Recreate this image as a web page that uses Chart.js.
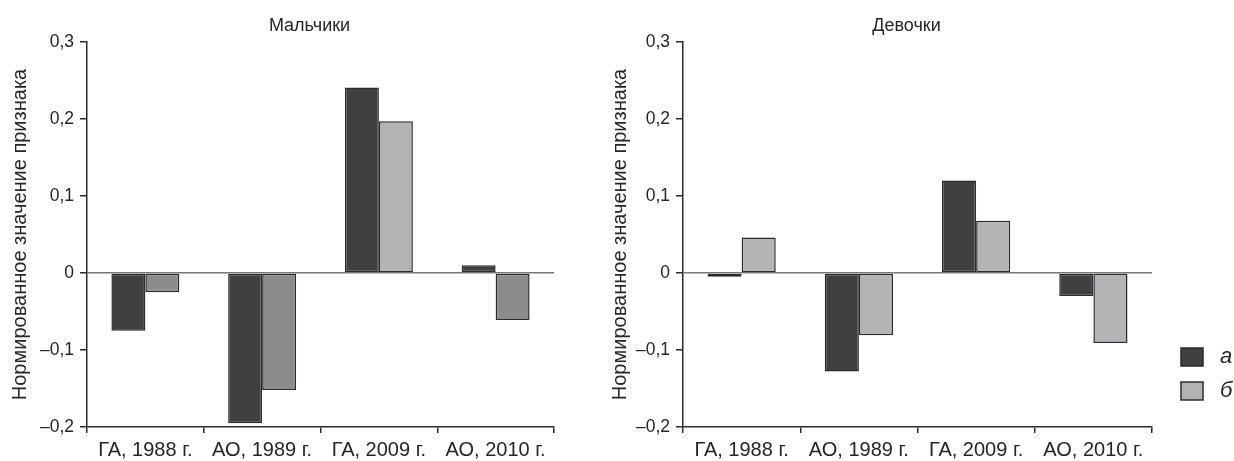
<!DOCTYPE html>
<html>
<head>
<meta charset="utf-8">
<script src="https://cdn.jsdelivr.net/npm/chart.js@4"></script>
<style>
  html, body { margin: 0; padding: 0; background: #ffffff; }
  #wrap { position: relative; width: 1234px; height: 461px; overflow: hidden; }
  canvas { position: absolute; top: 0; }
  #boys { left: 0; }
  #girls { left: 600px; }
</style>
</head>
<body>
<div id="wrap">
  <canvas id="boys" width="600" height="461"></canvas>
  <canvas id="girls" width="634" height="461"></canvas>
</div>
<script>
// Categories (group, survey year)
const categories = ['ГА, 1988 г.', 'АО, 1989 г.', 'ГА, 2009 г.', 'АО, 2010 г.'];
const seriesNames = ['а', 'б'];

// Normalised values, boys
const boysA = [-0.075, -0.195, 0.241, 0.010];
const boysB = [-0.025, -0.152, 0.197, -0.061];

// Normalised values, girls
const girlsA = [-0.005, -0.128, 0.120, -0.030];
const girlsB = [0.046, -0.081, 0.068, -0.091];

// Y axis ticks
const yTicks = [-0.2, -0.1, 0, 0.1, 0.2, 0.3];

const panelTitles = ['Мальчики', 'Девочки'];
const yAxisTitle = 'Нормированное значение признака';

// Styles
const FONT = '"Liberation Sans", Arial, Helvetica, sans-serif';
const INK = '#262626';
const EDGE = '#2b2b2b';
const DARK = '#404040';
const LIGHT = '#b4b4b6';
const MID = '#8c8c8c';
const ZERO = '#787878';

function fmtTick(v) {
  const r = Math.round(v * 10) / 10;
  if (r === 0) return '0';
  return (r < 0 ? '\u2013' : '') + Math.abs(r).toFixed(1).replace('.', ',');
}

// Panel heading drawn above the plot area
const panelTitlePlugin = {
  id: 'panelTitle',
  afterDraw(chart, args, opts) {
    const ctx = chart.ctx;
    const a = chart.chartArea;
    ctx.save();
    ctx.font = '18px ' + FONT;
    ctx.fillStyle = INK;
    ctx.textAlign = 'center';
    ctx.textBaseline = 'alphabetic';
    ctx.fillText(opts.text, (a.left + a.right) / 2 + opts.shift, 31);
    ctx.restore();
  }
};

// Series key drawn to the right of the plot area
const seriesKeyPlugin = {
  id: 'seriesKey',
  afterDraw(chart, args, opts) {
    if (!opts.show) return;
    const ctx = chart.ctx;
    const a = chart.chartArea;
    const x0 = a.right + 29;
    const y0 = a.bottom - 79;
    ctx.save();
    chart.data.datasets.forEach((ds, i) => {
      const y = y0 + i * 34;
      ctx.fillStyle = opts.colors[i];
      ctx.fillRect(x0, y, 22, 18);
      ctx.lineWidth = 1.5;
      ctx.strokeStyle = EDGE;
      ctx.strokeRect(x0, y, 22, 18);
      ctx.fillStyle = INK;
      ctx.font = 'italic 22px ' + FONT;
      ctx.textAlign = 'left';
      ctx.textBaseline = 'alphabetic';
      ctx.fillText(ds.label, x0 + 39, y + 15);
    });
    ctx.restore();
  }
};

function makePanel(canvasId, title, dataA, dataB, colorsB, axisWidth, padRight, showKey) {
  return new Chart(document.getElementById(canvasId), {
    type: 'bar',
    data: {
      labels: categories,
      datasets: [
        {
          label: seriesNames[0], data: dataA,
          backgroundColor: DARK, borderColor: EDGE, borderWidth: 1.5, borderSkipped: false,
          categoryPercentage: 0.582, barPercentage: 1.0
        },
        {
          label: seriesNames[1], data: dataB,
          backgroundColor: colorsB, borderColor: EDGE, borderWidth: 1.5, borderSkipped: false,
          categoryPercentage: 0.582, barPercentage: 1.0
        }
      ]
    },
    options: {
      responsive: false,
      animation: false,
      layout: { padding: { top: 42, right: padRight, bottom: 0, left: 0 } },
      plugins: {
        legend: { display: false },
        tooltip: { enabled: false },
        panelTitle: { text: title, shift: -11 },
        seriesKey: { show: showKey, colors: [DARK, LIGHT] }
      },
      scales: {
        x: {
          grid: { offset: true, drawOnChartArea: false, drawTicks: true, tickLength: 6, color: EDGE, lineWidth: 1.5 },
          border: { color: EDGE, width: 1.5 },
          ticks: { color: INK, font: { size: 20, family: FONT }, padding: 5, maxRotation: 0, autoSkip: false },
          afterFit(s) { s.height = 34; }
        },
        y: {
          min: -0.2, max: 0.3,
          afterBuildTicks(s) { s.ticks = yTicks.map(v => ({ value: v })); },
          ticks: { callback: fmtTick, color: INK, font: { size: 17.5, family: FONT }, padding: 6 },
          grid: {
            color: ctx => (ctx.tick && Math.abs(ctx.tick.value) < 1e-9) ? ZERO : 'rgba(0,0,0,0)',
            tickColor: EDGE, tickLength: 7, lineWidth: 1.5
          },
          border: { color: EDGE, width: 1.5 },
          title: { display: true, text: yAxisTitle, color: INK, font: { size: 20, family: FONT }, padding: { top: 8, bottom: 0 } },
          afterFit(s) { s.width = axisWidth; }
        }
      }
    },
    plugins: [panelTitlePlugin, seriesKeyPlugin]
  });
}

makePanel('boys', panelTitles[0], boysA, boysB, [MID, MID, LIGHT, MID], 87, 46, false);
makePanel('girls', panelTitles[1], girlsA, girlsB, [LIGHT, LIGHT, LIGHT, LIGHT], 83, 82, true);
</script>
</body>
</html>
